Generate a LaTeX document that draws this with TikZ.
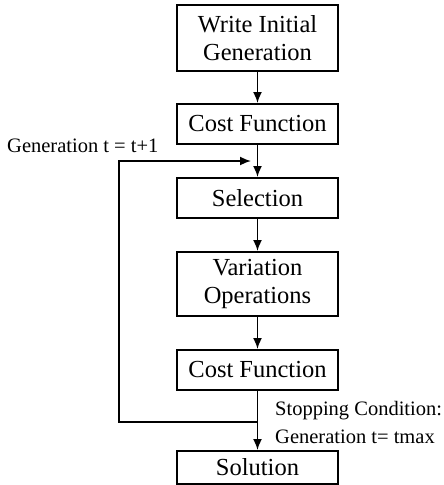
\documentclass[tikz,border=0pt]{standalone}
\usepackage{fontspec}
\setmainfont{Liberation Serif}
\usetikzlibrary{arrows.meta}
\tikzset{
  stepbox/.style={draw, line width=2pt, minimum width=161pt, inner sep=0pt,
    align=center, font=\fontsize{24.5}{28}\selectfont},
  flow/.style={line width=1.7pt, -{Latex[length=11pt,width=9pt]}},
  note/.style={inner sep=0pt, font=\fontsize{20.5}{24}\selectfont}
}
\begin{document}
\begin{tikzpicture}[x=1pt, y=-1pt]
\useasboundingbox (0,0) rectangle (444,485);
% boxes of the loop
\node [stepbox, minimum height=66pt] (init) at (257.5,38) {Write Initial\\Generation};
\node [stepbox, minimum height=40pt] (cost1) at (257.5,124) {Cost Function};
\node [stepbox, minimum height=40pt] (select) at (257.5,198) {Selection};
\node [stepbox, minimum height=64pt] (vary) at (257.5,284) {Variation\\Operations};
\node [stepbox, minimum height=40pt] (cost2) at (257.5,370) {Cost Function};
\node [stepbox, minimum height=33pt] (sol) at (257.5,467.5) {Solution};
% labels
\node [note, anchor=west] (inc) at (7,146) {Generation t = t+1};
\node [note, anchor=west] (stop) at (275,411) {Stopping Condition:};
\node [note, anchor=west] (tmax) at (275,437) {Generation t= tmax};
% arrows
\draw [flow] (init) -- (cost1);
\draw [flow] (cost1) -- (select);
\draw [flow] (select) -- (vary);
\draw [flow] (vary) -- (cost2);
\draw [flow] (cost2) -- (sol);
\coordinate (back) at (257.5,422);
\coordinate (entry) at (251,161);
\draw [flow] (back) -- (119,422) -- (119,161) -- (entry);
\end{tikzpicture}
\end{document}
